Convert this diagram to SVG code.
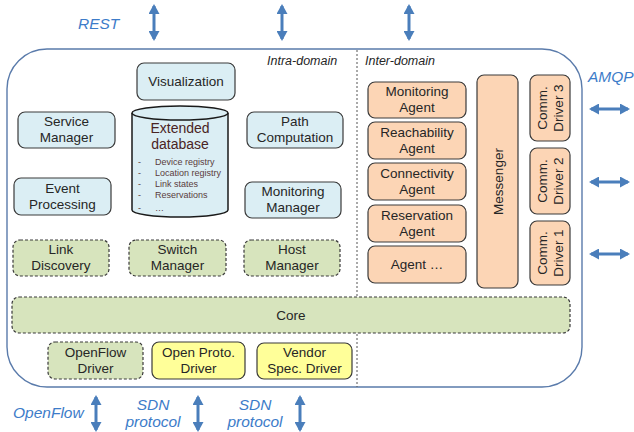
<svg xmlns="http://www.w3.org/2000/svg" width="634" height="432" viewBox="0 0 634 432">
<defs>
<marker id="ah" markerUnits="userSpaceOnUse" markerWidth="10" markerHeight="11" refX="8" refY="5.5" orient="auto-start-reverse" viewBox="0 0 10 11">
<path d="M0,0 L10,5.5 L0,11 z" fill="#4a7ebb"/>
</marker>
<style>
text{font-family:"Liberation Sans",Arial,sans-serif;}
.n{font-size:13.5px;fill:#262626;text-anchor:middle;}
.lbl{font-size:15.5px;fill:#3d7cc9;font-style:italic;}
.dom{font-size:12.5px;fill:#262626;font-style:italic;}
.blue{fill:#dbeef4;stroke:#3a3a3a;stroke-width:1.2;}
.green{fill:#d7e4bd;stroke:#3a3a3a;stroke-width:1.2;stroke-dasharray:3 2;}
.yellow{fill:#ffff99;stroke:#3a3a3a;stroke-width:1.2;}
.peach{fill:#fcd5b5;stroke:#3a3a3a;stroke-width:1.2;}
.arr{stroke:#4a7ebb;stroke-width:3;fill:none;marker-start:url(#ah);marker-end:url(#ah);}
</style>
</defs>
<rect width="634" height="432" fill="#ffffff"/>
<g id="container">
<rect x="7" y="49" width="575" height="338" rx="40" ry="40" fill="#ffffff" stroke="#5a7bab" stroke-width="1.4"/>
<line x1="357" y1="50" x2="357" y2="387" stroke="#555555" stroke-width="1" stroke-dasharray="2 2"/>
<text class="dom" x="267" y="65">Intra-domain</text>
<text class="dom" x="365" y="65">Inter-domain</text>
</g>
<g id="connectors">
<line class="arr" x1="154" y1="6" x2="154" y2="39"/>
<line class="arr" x1="282" y1="6" x2="282" y2="39"/>
<line class="arr" x1="409" y1="6" x2="409" y2="39"/>
<line class="arr" x1="96" y1="397" x2="96" y2="430"/>
<line class="arr" x1="198" y1="397" x2="198" y2="430"/>
<line class="arr" x1="300" y1="397" x2="300" y2="430"/>
<line class="arr" x1="591" y1="109" x2="628" y2="109"/>
<line class="arr" x1="591" y1="182" x2="628" y2="182"/>
<line class="arr" x1="591" y1="254" x2="628" y2="254"/>
<text class="lbl" x="78" y="29">REST</text>
<text class="lbl" x="588" y="82">AMQP</text>
<text class="lbl" x="13" y="418">OpenFlow</text>
<text class="lbl" x="153" y="410" text-anchor="middle">SDN</text>
<text class="lbl" x="153" y="427" text-anchor="middle">protocol</text>
<text class="lbl" x="255" y="410" text-anchor="middle">SDN</text>
<text class="lbl" x="255" y="427" text-anchor="middle">protocol</text>
</g>
<g id="visualization">
<rect class="blue" x="137" y="63" width="98" height="37" rx="7"/>
<text class="n" x="186" y="86">Visualization</text>
</g>
<g id="service-manager">
<rect class="blue" x="18" y="112" width="97" height="36" rx="7"/>
<text class="n" x="66.5" y="126">Service</text>
<text class="n" x="66.5" y="142">Manager</text>
</g>
<g id="event-processing">
<rect class="blue" x="14" y="178" width="97" height="37" rx="7"/>
<text class="n" x="62.5" y="193">Event</text>
<text class="n" x="62.5" y="209">Processing</text>
</g>
<g id="path-computation">
<rect class="blue" x="247" y="112" width="96" height="36" rx="7"/>
<text class="n" x="295" y="126">Path</text>
<text class="n" x="295" y="142">Computation</text>
</g>
<g id="monitoring-manager">
<rect class="blue" x="245" y="182" width="96" height="36" rx="7"/>
<text class="n" x="293" y="196">Monitoring</text>
<text class="n" x="293" y="212">Manager</text>
</g>
<g id="extended-database">
<path d="M132,113 V210 A48,7 0 0 0 228,210 V113 A48,7 0 0 0 132,113 Z" fill="#dbeef4" stroke="#1a1a1a" stroke-width="1.5"/>
<path d="M132,113 A48,7 0 0 0 228,113" fill="none" stroke="#1a1a1a" stroke-width="1.5"/>
<text x="180" y="133" style="font-size:14px;fill:#4a2424;text-anchor:middle">Extended</text>
<text x="180" y="149" style="font-size:14px;fill:#4a2424;text-anchor:middle">database</text>
<g style="font-size:9px;fill:#5a3c3c">
<text x="138" y="165">-</text><text x="155" y="165">Device registry</text>
<text x="138" y="176">-</text><text x="155" y="176">Location registry</text>
<text x="138" y="187">-</text><text x="155" y="187">Link states</text>
<text x="138" y="198">-</text><text x="155" y="198">Reservations</text>
<text x="138" y="211">-</text><text x="155" y="211">…</text>
</g>
</g>
<g id="link-discovery">
<rect class="green" x="13" y="240" width="96" height="36" rx="7"/>
<text class="n" x="61" y="254">Link</text>
<text class="n" x="61" y="270">Discovery</text>
</g>
<g id="switch-manager">
<rect class="green" x="129" y="240" width="97" height="36" rx="7"/>
<text class="n" x="177.5" y="254">Switch</text>
<text class="n" x="177.5" y="270">Manager</text>
</g>
<g id="host-manager">
<rect class="green" x="244" y="240" width="96" height="36" rx="7"/>
<text class="n" x="292" y="254">Host</text>
<text class="n" x="292" y="270">Manager</text>
</g>
<g id="core">
<rect class="green" x="12" y="297" width="558" height="36" rx="7"/>
<text class="n" x="291" y="320">Core</text>
</g>
<g id="openflow-driver">
<rect class="green" x="48" y="342" width="95" height="37" rx="7"/>
<text class="n" x="95.5" y="357">OpenFlow</text>
<text class="n" x="95.5" y="373">Driver</text>
</g>
<g id="open-proto-driver">
<rect class="yellow" x="152" y="342" width="93" height="37" rx="7"/>
<text class="n" x="198.5" y="357">Open Proto.</text>
<text class="n" x="198.5" y="373">Driver</text>
</g>
<g id="vendor-spec-driver">
<rect class="yellow" x="257" y="343" width="95" height="36" rx="7"/>
<text class="n" x="304.5" y="357">Vendor</text>
<text class="n" x="304.5" y="373">Spec. Driver</text>
</g>
<g id="monitoring-agent">
<rect class="peach" x="368" y="82" width="98" height="36" rx="7"/>
<text class="n" x="417" y="96">Monitoring</text>
<text class="n" x="417" y="112">Agent</text>
</g>
<g id="reachability-agent">
<rect class="peach" x="368" y="122" width="98" height="37" rx="7"/>
<text class="n" x="417" y="137">Reachability</text>
<text class="n" x="417" y="153">Agent</text>
</g>
<g id="connectivity-agent">
<rect class="peach" x="368" y="163" width="98" height="37" rx="7"/>
<text class="n" x="417" y="178">Connectivity</text>
<text class="n" x="417" y="194">Agent</text>
</g>
<g id="reservation-agent">
<rect class="peach" x="368" y="205" width="98" height="37" rx="7"/>
<text class="n" x="417" y="220">Reservation</text>
<text class="n" x="417" y="236">Agent</text>
</g>
<g id="agent-more">
<rect class="peach" x="368" y="246" width="98" height="37" rx="7"/>
<text class="n" x="417" y="269">Agent …</text>
</g>
<g id="messenger">
<rect class="peach" x="477" y="75" width="41" height="213" rx="7"/>
<text class="n" transform="translate(502.5,181.5) rotate(-90)">Messenger</text>
</g>
<g id="comm-driver-3">
<rect class="peach" x="530" y="75" width="40" height="66" rx="7"/>
<text class="n" transform="translate(547,108) rotate(-90)">Comm.</text>
<text class="n" transform="translate(563,108) rotate(-90)">Driver 3</text>
</g>
<g id="comm-driver-2">
<rect class="peach" x="530" y="148" width="40" height="66" rx="7"/>
<text class="n" transform="translate(547,181) rotate(-90)">Comm.</text>
<text class="n" transform="translate(563,181) rotate(-90)">Driver 2</text>
</g>
<g id="comm-driver-1">
<rect class="peach" x="530" y="221" width="40" height="64" rx="7"/>
<text class="n" transform="translate(547,253) rotate(-90)">Comm.</text>
<text class="n" transform="translate(563,253) rotate(-90)">Driver 1</text>
</g>
</svg>
